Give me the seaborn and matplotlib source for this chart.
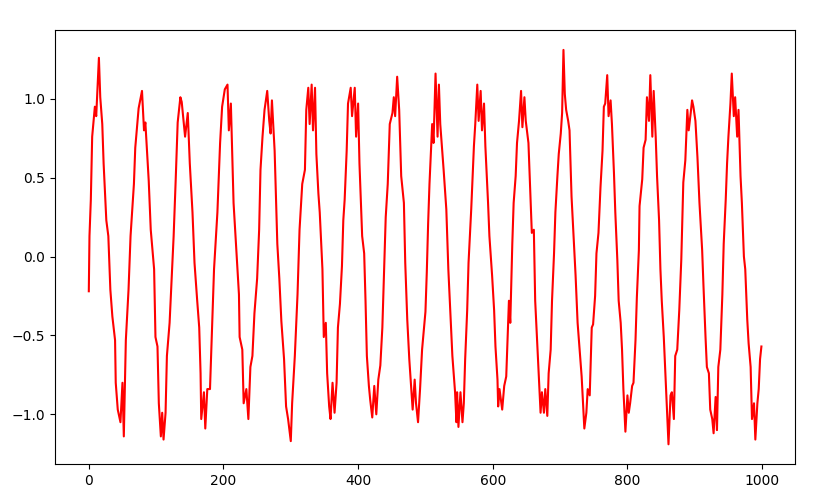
# Import the libraries
import numpy as np
import seaborn as sns
import matplotlib.pyplot as plt

# Data (noisy oscillating signal)
steps = [0, 1, 3, 5, 9, 11, 15, 17, 20, 22, 26, 29, 32, 35, 39, 40, 43, 47, 50, 52,
         55, 59, 62, 67, 69, 74, 79, 82, 84, 87, 89, 92, 97, 99, 102, 104, 107, 109, 111, 114,
         116, 120, 126, 129, 132, 136, 138, 143, 147, 150, 154, 157, 161, 164, 166, 167, 171, 173, 176, 180,
         182, 186, 191, 195, 198, 202, 206, 208, 211, 213, 215, 219, 223, 224, 228, 230, 234, 237, 240, 243,
         246, 250, 253, 255, 258, 261, 265, 268, 270, 272, 276, 280, 283, 286, 290, 293, 296, 300, 302, 306,
         310, 313, 317, 321, 323, 326, 328, 331, 333, 336, 338, 341, 343, 347, 349, 352, 354, 357, 359, 362,
         365, 368, 370, 373, 376, 378, 380, 383, 385, 389, 391, 395, 397, 400, 402, 406, 409, 411, 413, 416,
         418, 421, 424, 427, 430, 433, 436, 438, 441, 444, 447, 451, 453, 455, 458, 461, 464, 468, 470, 473,
         476, 479, 481, 484, 486, 489, 492, 495, 500, 502, 504, 506, 510, 512, 515, 518, 520, 522, 525, 527,
         531, 534, 537, 540, 544, 546, 547, 549, 552, 555, 557, 559, 562, 564, 568, 572, 574, 577, 579, 582,
         584, 587, 589, 593, 595, 599, 602, 604, 607, 608, 610, 614, 617, 620, 624, 626, 629, 631, 634, 636,
         639, 642, 644, 647, 649, 653, 655, 658, 661, 663, 667, 669, 671, 673, 676, 678, 681, 683, 686, 688,
         691, 693, 696, 698, 701, 703, 705, 707, 709, 712, 714, 717, 720, 723, 726, 729, 732, 734, 736, 739,
         741, 744, 747, 749, 752, 754, 757, 760, 763, 765, 767, 770, 772, 775, 777, 780, 782, 785, 787, 790,
         792, 794, 797, 800, 802, 804, 807, 809, 812, 814, 817, 818, 822, 824, 827, 829, 832, 834, 837, 839,
         842, 844, 847, 849, 851, 854, 856, 859, 861, 864, 866, 869, 871, 874, 877, 880, 883, 886, 889, 891,
         894, 896, 898, 901, 904, 907, 911, 913, 916, 918, 921, 923, 926, 928, 931, 933, 935, 938, 941, 943,
         946, 948, 950, 953, 955, 958, 960, 963, 965, 968, 970, 973, 975, 978, 980, 983, 985, 988, 990, 993,
         995, 997, 999]

signal = [-0.22, 0.13, 0.36, 0.76, 0.95, 0.89, 1.26, 1.01, 0.84, 0.59, 0.23, 0.13, -0.21, -0.38, -0.53, -0.80, -0.97, -1.05, -0.80, -1.14,
          -0.53, -0.21, 0.13, 0.46, 0.69, 0.94, 1.05, 0.80, 0.85, 0.63, 0.48, 0.17, -0.08, -0.51, -0.57, -0.93, -1.14, -0.99, -1.16, -0.99,
          -0.63, -0.42, 0.13, 0.48, 0.85, 1.01, 0.98, 0.76, 0.91, 0.59, 0.28, -0.04, -0.28, -0.45, -0.74, -1.03, -0.86, -1.09, -0.84, -0.84,
          -0.59, -0.08, 0.28, 0.72, 0.95, 1.06, 1.09, 0.80, 0.97, 0.65, 0.34, 0.05, -0.24, -0.51, -0.59, -0.93, -0.84, -1.03, -0.70, -0.63,
          -0.36, -0.14, 0.17, 0.55, 0.76, 0.93, 1.05, 0.86, 0.78, 0.99, 0.67, 0.08, -0.14, -0.41, -0.65, -0.95, -1.03, -1.17, -0.93, -0.63,
          -0.24, 0.17, 0.46, 0.55, 0.93, 1.07, 0.84, 1.09, 0.80, 1.07, 0.65, 0.40, 0.28, -0.08, -0.51, -0.42, -0.74, -0.95, -1.03, -0.80,
          -0.99, -0.80, -0.45, -0.30, -0.06, 0.23, 0.36, 0.67, 0.97, 1.07, 0.89, 1.07, 0.76, 0.97, 0.59, 0.13, 0.02, -0.28, -0.63, -0.82,
          -0.91, -1.02, -0.82, -1.00, -0.78, -0.69, -0.45, -0.17, 0.25, 0.46, 0.84, 0.91, 1.01, 0.89, 1.14, 0.93, 0.51, 0.34, -0.04, -0.40,
          -0.65, -0.84, -0.97, -0.78, -0.93, -1.05, -0.84, -0.59, -0.35, -0.10, 0.21, 0.46, 0.84, 0.72, 1.16, 0.76, 1.09, 0.84, 0.67, 0.55,
          0.30, -0.08, -0.36, -0.63, -0.86, -1.05, -0.86, -1.08, -0.86, -1.05, -0.93, -0.65, -0.34, -0.04, 0.30, 0.70, 0.84, 1.09, 0.86, 1.05,
          0.80, 0.97, 0.70, 0.34, 0.13, -0.12, -0.34, -0.57, -0.78, -0.95, -0.84, -0.97, -0.82, -0.76, -0.28, -0.42, 0.08, 0.34, 0.51, 0.72,
          0.86, 1.05, 0.82, 1.01, 0.86, 0.72, 0.49, 0.15, 0.17, -0.28, -0.63, -0.80, -0.99, -0.86, -0.99, -0.84, -1.01, -0.74, -0.59, -0.28,
          0.02, 0.28, 0.51, 0.65, 0.78, 0.91, 1.31, 1.03, 0.93, 0.86, 0.80, 0.38, 0.13, -0.12, -0.42, -0.59, -0.76, -0.93, -1.09, -0.99,
          -0.84, -0.88, -0.45, -0.43, -0.25, 0.02, 0.15, 0.44, 0.67, 0.95, 0.97, 1.15, 0.89, 0.99, 0.84, 0.53, 0.28, -0.02, -0.28, -0.42,
          -0.59, -0.84, -1.11, -0.88, -0.99, -0.93, -0.82, -0.80, -0.53, -0.26, 0.04, 0.32, 0.49, 0.69, 0.74, 1.01, 0.86, 1.15, 0.76, 1.05,
          0.76, 0.51, 0.23, -0.08, -0.28, -0.51, -0.70, -0.99, -1.19, -0.88, -0.86, -1.03, -0.63, -0.59, -0.34, -0.02, 0.47, 0.61, 0.93, 0.80,
          0.91, 0.99, 0.95, 0.86, 0.63, 0.34, 0.04, -0.19, -0.51, -0.70, -0.74, -0.97, -1.03, -1.12, -0.89, -1.10, -0.70, -0.59, -0.24, 0.08,
          0.36, 0.59, 0.76, 0.97, 1.16, 0.89, 1.01, 0.76, 0.93, 0.51, 0.34, 0.00, -0.08, -0.40, -0.55, -0.70, -1.03, -0.93, -1.16, -0.93,
          -0.84, -0.65, -0.57]

xticks = [0, 200, 400, 600, 800, 1000]
yticks = [-1.0, -0.5, 0.0, 0.5, 1.0]

# Line plot of the signal
fig, ax = plt.subplots(figsize=(8.36, 5.03), dpi=100)
fig.subplots_adjust(left=0.066, right=0.951, top=0.94, bottom=0.0775)
sns.lineplot(x=np.array(steps), y=np.array(signal), color="red", linewidth=1.5,
             estimator=None, ax=ax)
ax.set_xticks(xticks)
ax.set_yticks(yticks)
ax.set_xlim(-49.95, 1048.95)
ax.set_ylim(-1.315, 1.435)
plt.savefig("out.png", dpi=100)
